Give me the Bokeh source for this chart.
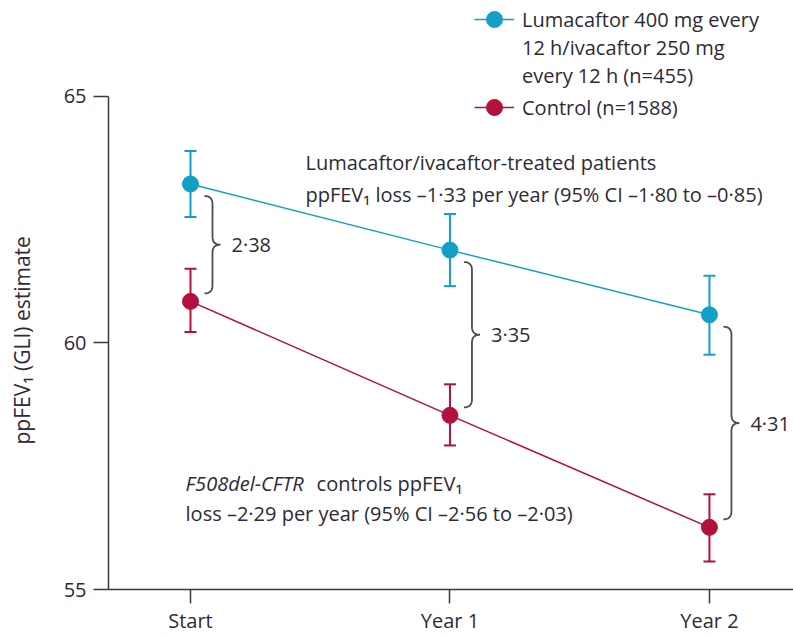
import numpy as np
from bokeh.plotting import figure
from bokeh.models import (Range1d, FixedTicker, Whisker, TeeHead, ColumnDataSource,
                          Legend, LegendItem, Label, Title)
from bokeh.embed import file_html
from bokeh.resources import INLINE
from bokeh.core.properties import value

# ---------------- data ----------------
categories = ["Start", "Year 1", "Year 2"]
x_pos = [0, 1, 2]
treated_mean = [63.22, 61.88, 60.57]
treated_lower = [62.55, 61.15, 59.76]
treated_upper = [63.89, 62.61, 61.36]
control_mean = [60.84, 58.53, 56.26]
control_lower = [60.22, 57.92, 55.57]
control_upper = [61.50, 59.16, 56.93]
differences = ["2·38", "3·35", "4·31"]
y_ticks = [55, 60, 65]
y_title = "ppFEV₁ (GLI) estimate"

treated_label = ["Lumacaftor 400 mg every", "12 h/ivacaftor 250 mg", "every 12 h (n=455)"]
control_label = "Control (n=1588)"

# ---------------- style ----------------
FONT = "Open Sans"
FS = "20px"
TEXT = "#2e2a38"
BLUE = "#149fc7"
RED = "#b3103c"
AXIS = "#3a3a3a"
BRACE = "#4d4d4d"

W, H = 793, 636
LEFT, BOTTOM = 108, 46
XR = (-0.316, 2.324)
YR = (55, 66.94)
XU = (XR[1] - XR[0]) / (W - LEFT)      # data units per px (x)
YU = (YR[1] - YR[0]) / (H - BOTTOM)    # data units per px (y)

p = figure(width=W, height=H, output_backend="svg", toolbar_location=None,
           x_range=Range1d(*XR), y_range=Range1d(*YR),
           min_border_left=LEFT, min_border_right=0, min_border_top=0,
           min_border_bottom=BOTTOM)
p.outline_line_color = None
p.grid.visible = False
p.background_fill_color = "white"

# axes
p.yaxis.ticker = FixedTicker(ticks=y_ticks)
p.yaxis.bounds = (55, 65)
p.xaxis.ticker = FixedTicker(ticks=x_pos)
p.xaxis.major_label_overrides = {x: c for x, c in zip(x_pos, categories)}
for ax in (p.xaxis, p.yaxis):
    ax.axis_line_color = AXIS
    ax.axis_line_width = 1.5
    ax.major_tick_line_color = AXIS
    ax.major_tick_line_width = 1.5
    ax.major_tick_in = 0
    ax.minor_tick_line_color = None
    ax.major_label_text_font = FONT
    ax.major_label_text_font_size = FS
    ax.major_label_text_color = TEXT
p.xaxis.major_tick_out = 14
p.xaxis.major_label_standoff = 3
p.yaxis.major_tick_out = 15
p.yaxis.major_label_standoff = 7

# y-axis title as a side title (a blank spacer title pushes it further left),
# shifted to sit on the axis' own extent
p.add_layout(Title(text=" ", standoff=4, text_font=FONT, text_font_size="10px"), "left")
p.add_layout(Title(text=y_title, align="left", offset=145, standoff=10,
                   text_font=FONT, text_font_size="21px", text_font_style="normal",
                   text_color=TEXT), "left")

# series
src_t = ColumnDataSource(dict(x=x_pos, m=treated_mean, lo=treated_lower, hi=treated_upper))
src_c = ColumnDataSource(dict(x=x_pos, m=control_mean, lo=control_lower, hi=control_upper))

lt = p.line("x", "m", source=src_t, line_color=BLUE, line_width=1.5)
lc = p.line("x", "m", source=src_c, line_color=RED, line_width=1.5)

for src, col in ((src_t, BLUE), (src_c, RED)):
    w = Whisker(source=src, base="x", lower="lo", upper="hi", line_color=col, line_width=2,
                upper_head=TeeHead(size=12, line_color=col, line_width=2),
                lower_head=TeeHead(size=12, line_color=col, line_width=2),
                level="glyph")
    p.add_layout(w)

st = p.scatter("x", "m", source=src_t, size=16, fill_color=BLUE, line_color=BLUE)
sc = p.scatter("x", "m", source=src_c, size=16, fill_color=RED, line_color=RED)

# braces
t = np.linspace(0, 1, 10)
def qb(p0, p1, p2):
    return ((1 - t) ** 2 * p0[0] + 2 * (1 - t) * t * p1[0] + t ** 2 * p2[0],
            (1 - t) ** 2 * p0[1] + 2 * (1 - t) * t * p1[1] + t ** 2 * p2[1])

bx, by, lx, ly = [], [], [], []
for xc, tm, cm in zip(x_pos, treated_mean, control_mean):
    x0 = xc + 14 * XU
    h = 8 * XU
    wd = 16 * XU
    r = 8 * YU
    top = tm - 12 * YU
    bot = cm + 8 * YU
    mid = (top + bot) / 2
    segs = [
        qb((x0, top), (x0 + h, top), (x0 + h, top - r)),
        qb((x0 + h, mid + r), (x0 + h, mid), (x0 + wd, mid)),
        qb((x0 + wd, mid), (x0 + h, mid), (x0 + h, mid - r)),
        qb((x0 + h, bot + r), (x0 + h, bot), (x0, bot)),
    ]
    xs = np.concatenate([s[0] for s in segs])
    ys = np.concatenate([s[1] for s in segs])
    bx.append(list(xs)); by.append(list(ys))
    lx.append(x0 + wd + 11 * XU); ly.append(mid)

p.multi_line(bx, by, line_color=BRACE, line_width=1.8)
p.text(x=lx, y=ly, text=differences, text_font=value(FONT), text_font_size=FS,
       text_color=TEXT, text_baseline="middle", text_align="left")

# annotations
def lab(x, y, s, style="normal", xoff=0):
    p.add_layout(Label(x=x, y=y, text=s, x_offset=xoff, text_font=FONT, text_font_size=FS,
                       text_color=TEXT, text_baseline="middle", text_align="left",
                       text_font_style=style))

lab(0.443, 63.66, "Lumacaftor/ivacaftor-treated patients")
lab(0.443, 63.00, "ppFEV₁ loss –1·33 per year (95% CI –1·80 to –0·85)")
lab(-0.019, 57.15, "F508del-CFTR", style="italic")
lab(-0.019, 57.15, "controls ppFEV₁", xoff=131)
lab(-0.019, 56.54, "loss –2·29 per year (95% CI –2·56 to –2·03)")

# legend (split in three blocks so each line keeps the reference's spacing)
dummy = p.scatter(x=[], y=[], fill_alpha=0, line_alpha=0)
blocks = [
    ([LegendItem(label=treated_label[0], renderers=[lt, st])], 40, 550),
    ([LegendItem(label=treated_label[1], renderers=[dummy]),
      LegendItem(label=treated_label[2], renderers=[dummy])], 28, 500),
    ([LegendItem(label=control_label, renderers=[lc, sc])], 40, 462),
]
for items, gh, bottom in blocks:
    leg = Legend(items=items, location=(366, bottom), padding=0, margin=0, spacing=0,
                 border_line_color=None, background_fill_alpha=0,
                 glyph_width=40, glyph_height=gh, label_height=gh, label_standoff=8,
                 label_text_font=FONT, label_text_font_size=FS, label_text_color=TEXT)
    p.add_layout(leg)

open("out.html", "w").write(file_html(p, INLINE))
